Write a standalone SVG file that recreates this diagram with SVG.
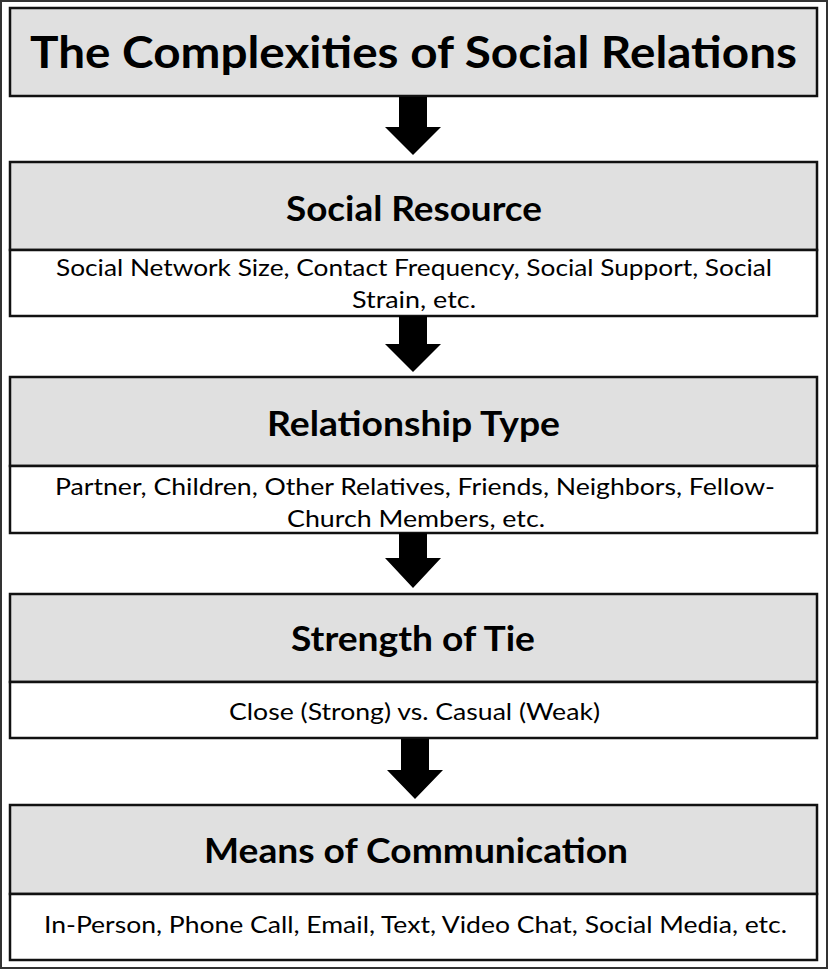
<svg xmlns="http://www.w3.org/2000/svg" width="829" height="970" viewBox="0 0 829 970">
<style>
.bg{fill:#ffffff}
.frame{fill:none;stroke:#333333;stroke-width:2}
.hdr{fill:#e0e0e0;stroke:#111111;stroke-width:2.5}
.body{fill:#ffffff;stroke:#111111;stroke-width:2.5}
.t{font-family:Lato,"Open Sans","Noto Sans",sans-serif;fill:#000000;text-anchor:middle}
.title{font-size:44px;font-weight:700}
.head{font-size:35px;font-weight:700}
.txt{font-size:24px;font-weight:400}
.arrow{fill:#000000}
</style>
<rect class="bg" x="0" y="0" width="829" height="970"/>
<rect class="frame" x="1" y="1" width="826" height="967"/>
<g id="title">
<rect class="hdr" x="10" y="8" width="807" height="88"/>
<text class="t title" x="413.5" y="68" textLength="767" lengthAdjust="spacingAndGlyphs">The Complexities of Social Relations</text>
</g>
<g id="social-resource">
<rect class="hdr" x="10" y="162" width="807" height="88"/>
<rect class="body" x="10" y="250" width="807" height="66"/>
<text class="t head" x="414" y="221" textLength="256" lengthAdjust="spacingAndGlyphs">Social Resource</text>
<text class="t txt" x="414" y="276" textLength="716" lengthAdjust="spacingAndGlyphs">Social Network Size, Contact Frequency, Social Support, Social</text>
<text class="t txt" x="414" y="308" textLength="124" lengthAdjust="spacingAndGlyphs">Strain, etc.</text>
</g>
<g id="relationship-type">
<rect class="hdr" x="10" y="377" width="807" height="89"/>
<rect class="body" x="10" y="466" width="807" height="67"/>
<text class="t head" x="413.5" y="436" textLength="293" lengthAdjust="spacingAndGlyphs">Relationship Type</text>
<text class="t txt" x="415" y="495" textLength="720" lengthAdjust="spacingAndGlyphs">Partner, Children, Other Relatives, Friends, Neighbors, Fellow-</text>
<text class="t txt" x="416" y="527" textLength="258" lengthAdjust="spacingAndGlyphs">Church Members, etc.</text>
</g>
<g id="strength-of-tie">
<rect class="hdr" x="10" y="594" width="807" height="88"/>
<rect class="body" x="10" y="682" width="807" height="56"/>
<text class="t head" x="413" y="651" textLength="244" lengthAdjust="spacingAndGlyphs">Strength of Tie</text>
<text class="t txt" x="414.5" y="720" textLength="371" lengthAdjust="spacingAndGlyphs">Close (Strong) vs. Casual (Weak)</text>
</g>
<g id="means-of-communication">
<rect class="hdr" x="10" y="805" width="807" height="89"/>
<rect class="body" x="10" y="894" width="807" height="66"/>
<text class="t head" x="416" y="863" textLength="424" lengthAdjust="spacingAndGlyphs">Means of Communication</text>
<text class="t txt" x="415.5" y="933" textLength="743" lengthAdjust="spacingAndGlyphs">In-Person, Phone Call, Email, Text, Video Chat, Social Media, etc.</text>
</g>
<g id="connectors">
<polygon class="arrow" points="399,97 427,97 427,127 441,127 413,155 385,127 399,127"/>
<polygon class="arrow" points="399,316 427,316 427,344 441,344 413,372 385,344 399,344"/>
<polygon class="arrow" points="399,533 427,533 427,558 441,558 413,588 385,558 399,558"/>
<polygon class="arrow" points="401,739 429,739 429,770 443,770 415,799 387,770 401,770"/>
</g>
</svg>
